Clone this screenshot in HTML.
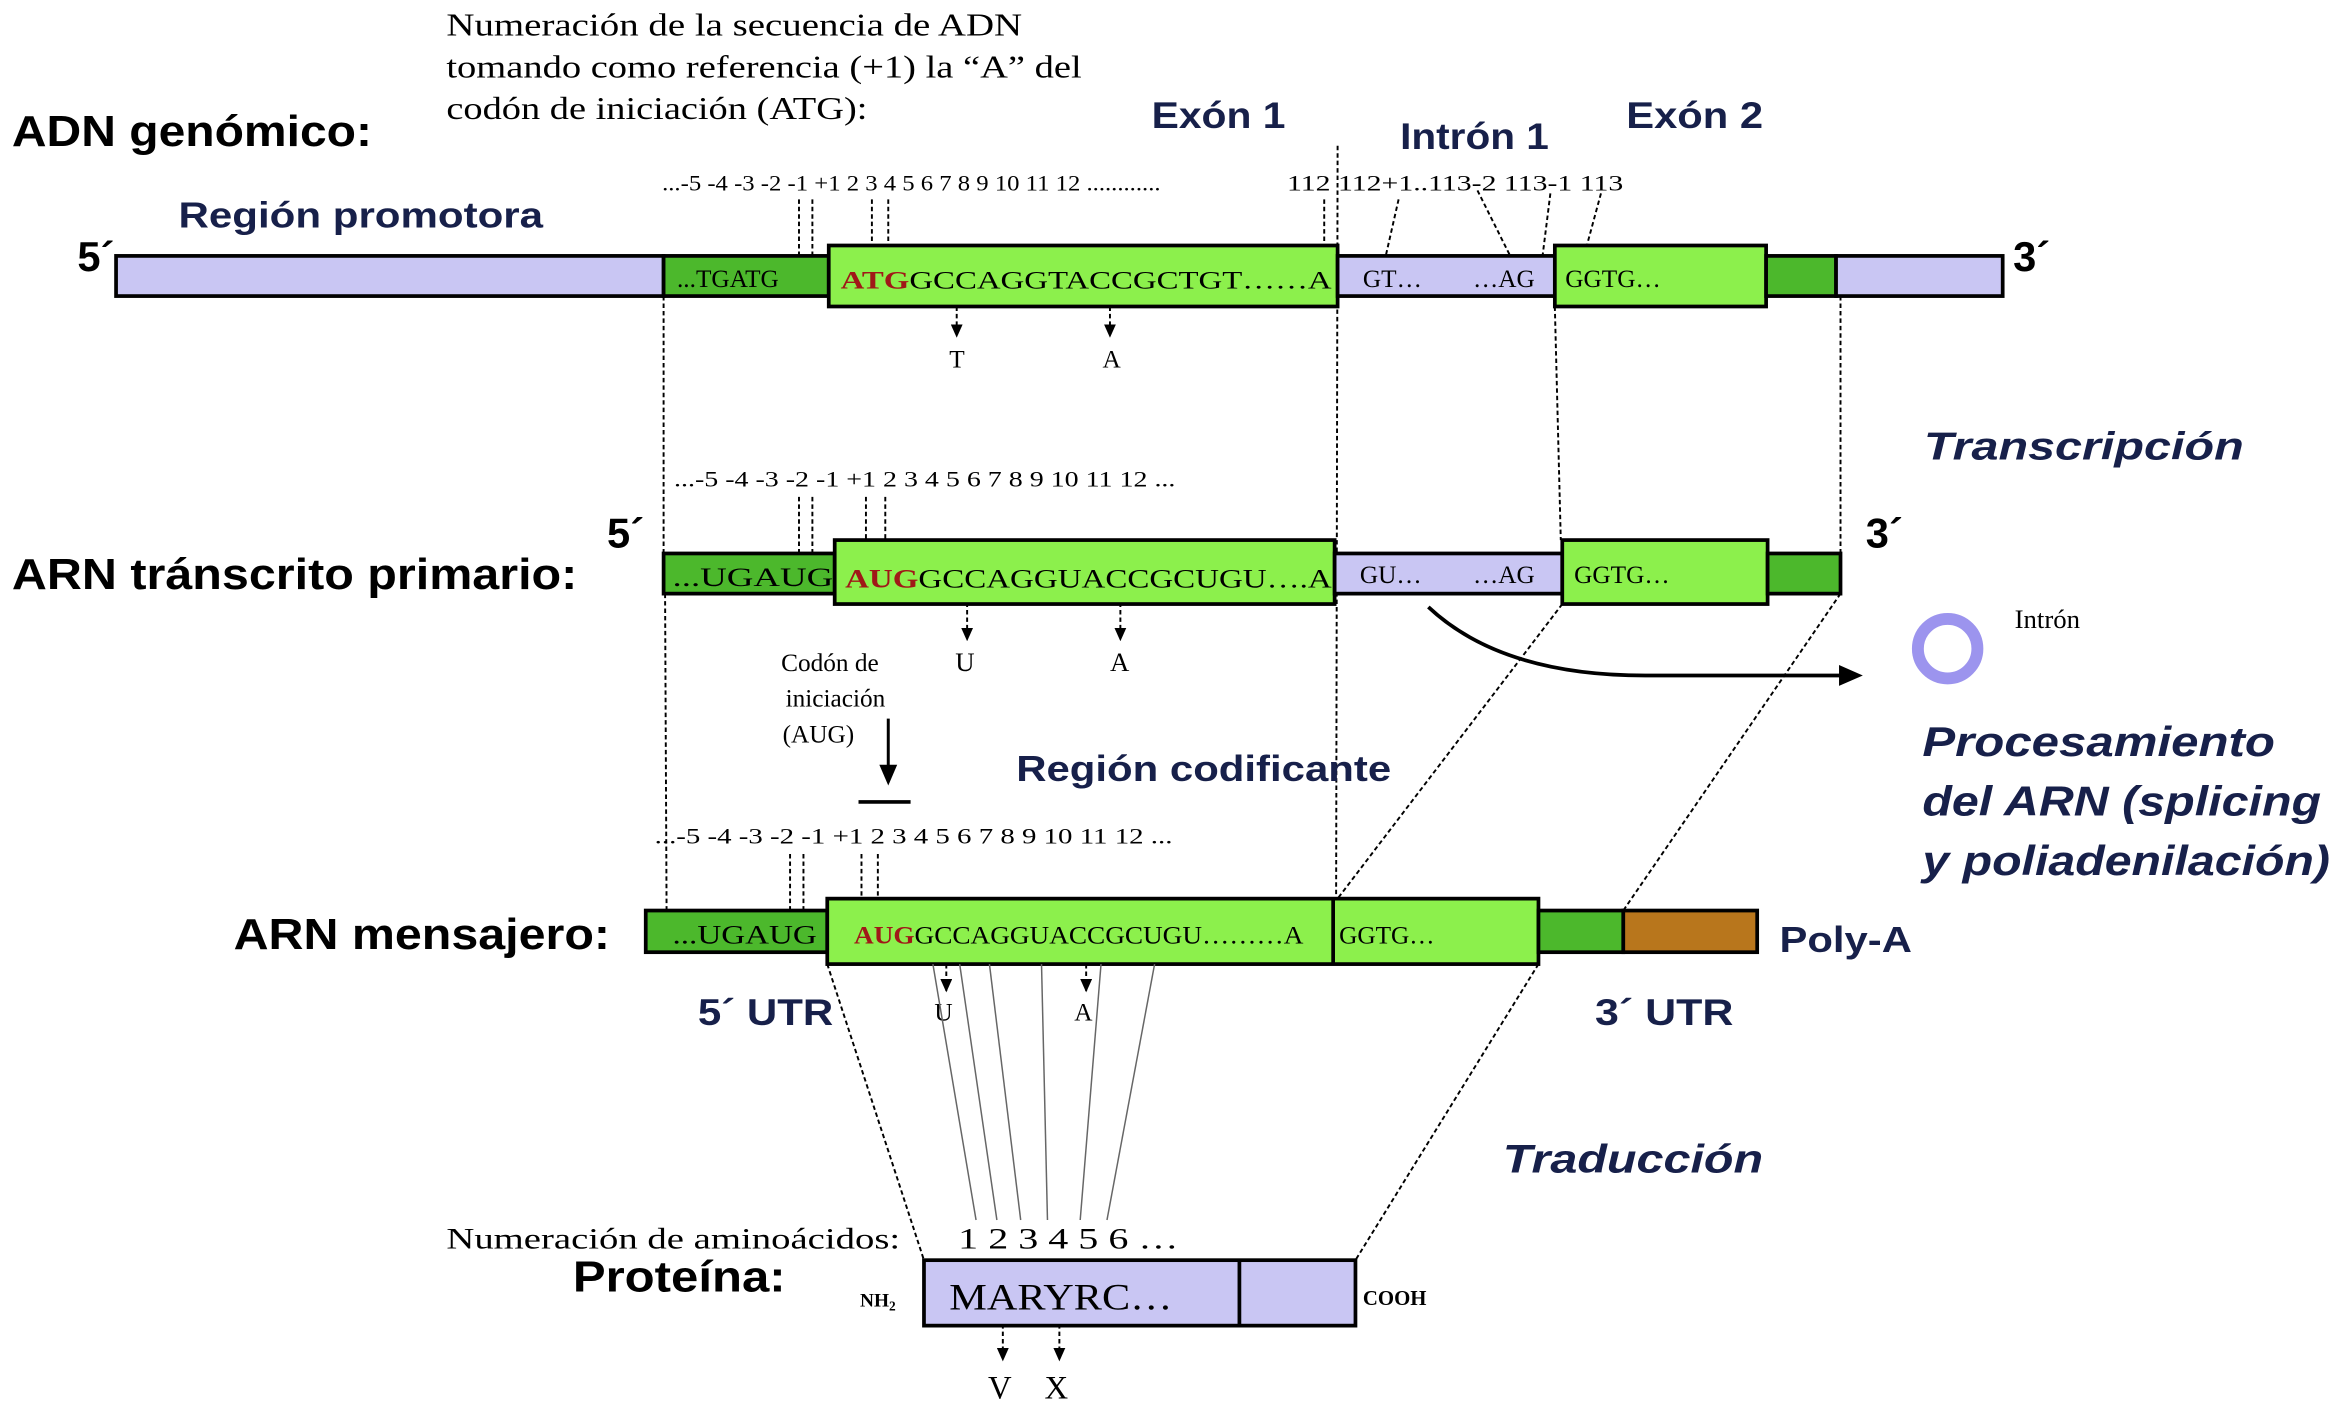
<!DOCTYPE html>
<html><head><meta charset="utf-8"><style>
html,body{margin:0;padding:0;background:#fff;}
svg{display:block;}
.h{font-family:"Liberation Sans",sans-serif;font-weight:bold;}
.s{font-family:"Liberation Serif",serif;}
.blue{fill:#17204a;}
</style></head><body>
<svg width="2333" height="1403" viewBox="0 0 1568 943" preserveAspectRatio="none" xmlns="http://www.w3.org/2000/svg">
<defs>
<marker id="ah" markerWidth="9" markerHeight="8" refX="8" refY="4" orient="auto" markerUnits="userSpaceOnUse">
<path d="M0,0 L9,4 L0,8 z" fill="#000"/></marker>
</defs>
<rect width="1568" height="943" fill="#fff"/>

<text x="8" y="98" class="h" font-size="29" fill="#000" textLength="242" lengthAdjust="spacingAndGlyphs">ADN genómico:</text>
<text x="300" y="24" class="s" font-size="21" textLength="387" lengthAdjust="spacingAndGlyphs">Numeración de la secuencia de ADN</text>
<text x="300" y="52" class="s" font-size="21" textLength="427" lengthAdjust="spacingAndGlyphs">tomando como referencia (+1) la “A” del</text>
<text x="300" y="80" class="s" font-size="21" textLength="283" lengthAdjust="spacingAndGlyphs">codón de iniciación (ATG):</text>
<text x="774" y="86" class="h blue" font-size="25" textLength="90" lengthAdjust="spacingAndGlyphs">Exón 1</text>
<text x="941" y="100" class="h blue" font-size="25" textLength="100" lengthAdjust="spacingAndGlyphs">Intrón 1</text>
<text x="1093" y="86" class="h blue" font-size="25" textLength="92" lengthAdjust="spacingAndGlyphs">Exón 2</text>
<text x="120" y="153" class="h blue" font-size="24" textLength="245" lengthAdjust="spacingAndGlyphs">Región promotora</text>
<text x="52" y="182" class="h" font-size="28">5´</text>
<text x="1353" y="182" class="h" font-size="28">3´</text>

<text x="445" y="128" class="s" font-size="15" textLength="335" lengthAdjust="spacingAndGlyphs">...-5 -4 -3 -2 -1  +1 2 3 4 5 6 7 8 9 10 11 12 ............</text>
<text x="865" y="128" class="s" font-size="15" textLength="226" lengthAdjust="spacingAndGlyphs">112  112+1..113-2 113-1  113</text>

<g stroke="#000" stroke-width="1.3" stroke-dasharray="3,2" fill="none">
<line x1="537" y1="134" x2="537" y2="172"/><line x1="546" y1="134" x2="546" y2="172"/>
<line x1="586" y1="134" x2="586" y2="165"/><line x1="597" y1="134" x2="597" y2="165"/>
<line x1="890" y1="134" x2="890" y2="172"/>
<line x1="940" y1="134" x2="930" y2="178"/>
<line x1="993" y1="128" x2="1018" y2="178"/>
<line x1="1042" y1="130" x2="1036" y2="178"/>
<line x1="1076" y1="130" x2="1063" y2="178"/>
<line x1="446" y1="199" x2="446" y2="372"/>
<line x1="447" y1="399" x2="448" y2="612"/>
<line x1="899" y1="98" x2="898" y2="604"/>
<line x1="1045" y1="206" x2="1049" y2="363"/>
<line x1="1237" y1="199" x2="1237" y2="372"/>
<line x1="1050" y1="406" x2="899" y2="604"/>
<line x1="1237" y1="399" x2="1091" y2="612"/>
<line x1="556" y1="648" x2="621" y2="847"/>
<line x1="1034" y1="648" x2="911" y2="847"/>
<line x1="537" y1="334" x2="537" y2="372"/><line x1="546" y1="334" x2="546" y2="372"/>
<line x1="582" y1="334" x2="582" y2="372"/><line x1="595" y1="334" x2="595" y2="372"/>
<line x1="531" y1="574" x2="531" y2="612"/><line x1="540" y1="574" x2="540" y2="612"/>
<line x1="579" y1="574" x2="579" y2="606"/><line x1="590" y1="574" x2="590" y2="606"/>
<line x1="643" y1="196" x2="643" y2="226" marker-end="url(#ah)"/>
<line x1="746" y1="196" x2="746" y2="226" marker-end="url(#ah)"/>
<line x1="650" y1="400" x2="650" y2="430" marker-end="url(#ah)"/>
<line x1="753" y1="400" x2="753" y2="430" marker-end="url(#ah)"/>
<line x1="636" y1="638" x2="636" y2="666" marker-end="url(#ah)"/>
<line x1="730" y1="638" x2="730" y2="666" marker-end="url(#ah)"/>
<line x1="674" y1="880" x2="674" y2="914" marker-end="url(#ah)"/>
<line x1="712" y1="880" x2="712" y2="914" marker-end="url(#ah)"/>
</g>

<g stroke="#000" stroke-width="2.5">
<rect x="78" y="172" width="368" height="27" fill="#c9c6f3"/>
<rect x="446" y="172" width="111" height="27" fill="#4cb82c"/>
<rect x="557" y="165" width="342" height="41" fill="#8cf04c"/>
<rect x="899" y="172" width="146" height="27" fill="#c9c6f3"/>
<rect x="1045" y="165" width="142" height="41" fill="#8cf04c"/>
<rect x="1187" y="172" width="47" height="27" fill="#4cb82c"/>
<rect x="1234" y="172" width="112" height="27" fill="#c9c6f3"/>
</g>
<text x="455" y="193" class="s" font-size="17">...TGATG</text>
<text x="565" y="194" class="s" font-size="17" textLength="330" lengthAdjust="spacingAndGlyphs"><tspan fill="#a01818" font-weight="bold">ATG</tspan>GCCAGGTACCGCTGT……A</text>
<text x="916" y="193" class="s" font-size="17">GT…</text>
<text x="990" y="193" class="s" font-size="17">…AG</text>
<text x="1052" y="193" class="s" font-size="17">GGTG…</text>
<text x="638" y="247" class="s" font-size="17">T</text>
<text x="741" y="247" class="s" font-size="17">A</text>

<text x="1293" y="309" class="h blue" font-size="26" font-style="italic" textLength="215" lengthAdjust="spacingAndGlyphs">Transcripción</text>
<text x="453" y="327" class="s" font-size="15" textLength="337" lengthAdjust="spacingAndGlyphs">...-5 -4 -3 -2 -1  +1 2 3 4 5 6 7 8 9 10 11 12 ...</text>
<text x="408" y="368" class="h" font-size="28">5´</text>
<text x="1254" y="368" class="h" font-size="28">3´</text>
<text x="8" y="396" class="h" font-size="29" textLength="380" lengthAdjust="spacingAndGlyphs">ARN tránscrito primario:</text>
<g stroke="#000" stroke-width="2.5">
<rect x="446" y="372" width="115" height="27" fill="#4cb82c"/>
<rect x="561" y="363" width="336" height="43" fill="#8cf04c"/>
<rect x="897" y="372" width="153" height="27" fill="#c9c6f3"/>
<rect x="1050" y="363" width="138" height="43" fill="#8cf04c"/>
<rect x="1188" y="372" width="49" height="27" fill="#4cb82c"/>
</g>
<text x="452" y="394" class="s" font-size="18" textLength="108" lengthAdjust="spacingAndGlyphs">...UGAUG</text>
<text x="568" y="395" class="s" font-size="18" textLength="327" lengthAdjust="spacingAndGlyphs"><tspan fill="#a01818" font-weight="bold">AUG</tspan>GCCAGGUACCGCUGU….A</text>
<text x="914" y="392" class="s" font-size="17">GU…</text>
<text x="990" y="392" class="s" font-size="17">…AG</text>
<text x="1058" y="392" class="s" font-size="17">GGTG…</text>
<text x="642" y="451" class="s" font-size="18">U</text>
<text x="746" y="451" class="s" font-size="18">A</text>
<path d="M960,408 Q1010,455 1110,454 L1238,454" fill="none" stroke="#000" stroke-width="2.5"/>
<path d="M1236,447 L1252,454 L1236,461 z" fill="#000"/>
<circle cx="1309" cy="436" r="20" fill="none" stroke="#9c94ee" stroke-width="8"/>
<text x="1354" y="422" class="s" font-size="18">Intrón</text>
<text x="1292" y="508" class="h blue" font-size="28" font-style="italic" textLength="237" lengthAdjust="spacingAndGlyphs">Procesamiento</text>
<text x="1292" y="548" class="h blue" font-size="28" font-style="italic" textLength="268" lengthAdjust="spacingAndGlyphs">del ARN (splicing</text>
<text x="1292" y="588" class="h blue" font-size="28" font-style="italic" textLength="274" lengthAdjust="spacingAndGlyphs">y poliadenilación)</text>

<text x="525" y="451" class="s" font-size="17">Codón de</text>
<text x="528" y="475" class="s" font-size="17">iniciación</text>
<text x="526" y="499" class="s" font-size="17">(AUG)</text>
<line x1="597" y1="483" x2="597" y2="518" stroke="#000" stroke-width="2"/>
<path d="M591,514 L603,514 L597,528 z" fill="#000"/>
<line x1="577" y1="539" x2="612" y2="539" stroke="#000" stroke-width="2.5"/>
<text x="683" y="525" class="h blue" font-size="24" textLength="252" lengthAdjust="spacingAndGlyphs">Región codificante</text>

<text x="440" y="567" class="s" font-size="15" textLength="348" lengthAdjust="spacingAndGlyphs">...-5 -4 -3 -2 -1  +1 2 3 4 5 6 7 8 9 10 11 12 ...</text>
<text x="157" y="638" class="h" font-size="29" textLength="253" lengthAdjust="spacingAndGlyphs">ARN mensajero:</text>
<g stroke="#000" stroke-width="2.5">
<rect x="434" y="612" width="122" height="28" fill="#4cb82c"/>
<rect x="556" y="604" width="478" height="44" fill="#8cf04c"/>
<rect x="1034" y="612" width="57" height="28" fill="#4cb82c"/>
<rect x="1091" y="612" width="90" height="28" fill="#b8761c"/>
<line x1="896" y1="604" x2="896" y2="648"/>
</g>
<text x="452" y="634" class="s" font-size="18" textLength="97" lengthAdjust="spacingAndGlyphs">...UGAUG</text>
<text x="574" y="634" class="s" font-size="17" textLength="302" lengthAdjust="spacingAndGlyphs"><tspan fill="#a01818" font-weight="bold">AUG</tspan>GCCAGGUACCGCUGU………A</text>
<text x="900" y="634" class="s" font-size="17">GGTG…</text>
<text x="1196" y="640" class="h blue" font-size="24" textLength="89" lengthAdjust="spacingAndGlyphs">Poly-A</text>
<text x="469" y="689" class="h blue" font-size="25" textLength="91" lengthAdjust="spacingAndGlyphs">5´ UTR</text>
<text x="1072" y="689" class="h blue" font-size="25" textLength="93" lengthAdjust="spacingAndGlyphs">3´ UTR</text>
<text x="628" y="686" class="s" font-size="17">U</text>
<text x="722" y="686" class="s" font-size="17">A</text>

<g stroke="#666" stroke-width="1" fill="none">
<line x1="627" y1="648" x2="656" y2="820"/>
<line x1="645" y1="648" x2="670" y2="820"/>
<line x1="665" y1="648" x2="686" y2="820"/>
<line x1="700" y1="648" x2="704" y2="820"/>
<line x1="740" y1="648" x2="726" y2="820"/>
<line x1="776" y1="648" x2="744" y2="820"/>
</g>
<text x="1010" y="788" class="h blue" font-size="27" font-style="italic" textLength="175" lengthAdjust="spacingAndGlyphs">Traducción</text>

<text x="300" y="839" class="s" font-size="20" textLength="305" lengthAdjust="spacingAndGlyphs">Numeración de aminoácidos:</text>
<text x="644" y="839" class="s" font-size="20" textLength="148" lengthAdjust="spacingAndGlyphs">1 2 3 4 5 6  …</text>
<text x="385" y="868" class="h" font-size="29" textLength="143" lengthAdjust="spacingAndGlyphs">Proteína:</text>
<rect x="621" y="847" width="290" height="44" fill="#c9c6f3" stroke="#000" stroke-width="2.5"/>
<line x1="833" y1="847" x2="833" y2="891" stroke="#000" stroke-width="2.5"/>
<text x="578" y="878" class="s" font-size="13" font-weight="bold">NH<tspan font-size="9" dy="3">2</tspan></text>
<text x="638" y="880" class="s" font-size="25" textLength="150" lengthAdjust="spacingAndGlyphs">MARYRC…</text>
<text x="916" y="877" class="s" font-size="14" font-weight="bold">COOH</text>
<text x="664" y="940" class="s" font-size="22">V</text>
<text x="702" y="940" class="s" font-size="22">X</text>
</svg>
</body></html>
